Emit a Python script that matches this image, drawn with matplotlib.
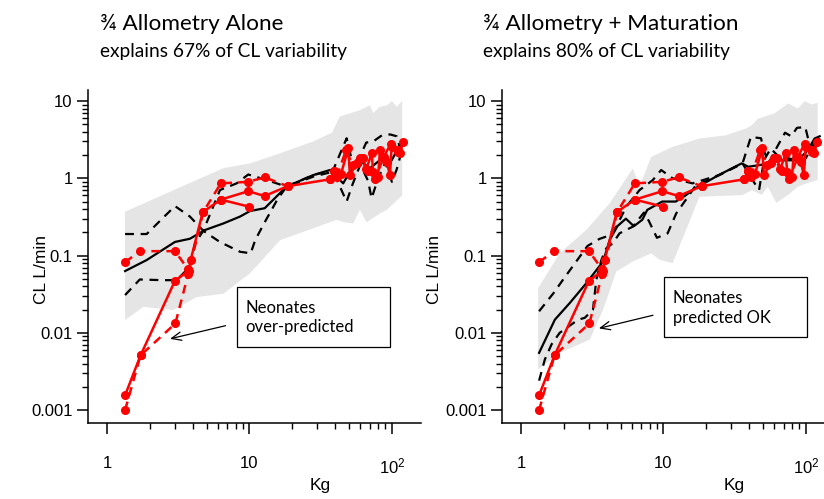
import matplotlib
matplotlib.use("Agg")
import matplotlib.pyplot as plt
from matplotlib.ticker import FixedLocator, NullFormatter
from matplotlib.patches import Rectangle

plt.rcParams['font.family'] = ['Liberation Sans', 'DejaVu Sans']
plt.rcParams['mathtext.default'] = 'regular'

# observed clearance (same in both panels): body weight kg, CL L/min
obs_kg_1 = [1.34, 1.72, 3.0, 3.75, 3.87, 4.7, 6.3, 9.8, 12.8, 18.5, 36.7, 39.5]
obs_cl_1 = [0.00155, 0.0051, 0.047, 0.064, 0.088, 0.365, 0.53, 0.68, 0.59, 0.79, 0.97, 1.25]
obs_kg_2 = [1.34, 1.72, 3.02, 3.72, 4.75, 6.3, 9.8, 12.8, 18.5]
obs_cl_2 = [0.001, 0.0051, 0.0132, 0.058, 0.37, 0.86, 0.90, 1.03, 0.79]
obs_kg_3 = [1.34, 1.70, 3.0, 3.72]
obs_cl_3 = [0.082, 0.114, 0.114, 0.066]
obs_kg_4 = [6.3, 9.9]
obs_cl_4 = [0.53, 0.43]
obs_kg_5 = [36.7, 39.5, 44, 49.4, 50.7, 56.5, 62.9, 66, 72, 74, 80, 82.4, 86.9, 91.8, 96.8, 99.5, 110.7, 113.8, 120]
obs_cl_5 = [0.97, 1.25, 1.15, 2.44, 1.10, 1.56, 1.81, 1.3, 2.10, 1.2, 1.05, 2.32, 1.90, 1.64, 1.10, 2.56, 2.32, 2.10, 2.97]
obs_kg_6 = [41, 47.6, 53, 60, 68, 76, 88, 98, 111]
obs_cl_6 = [1.05, 2.31, 1.5, 1.81, 1.24, 0.98, 1.9, 2.82, 2.2]

# 3/4 allometry alone: prediction band, median and two dashed percentiles
left_up_x = [1.34, 1.80, 2.92, 4.26, 6.55, 10.1, 16.4, 28, 38, 43, 59.5, 70, 74, 82, 92, 100, 108, 118]
left_up_y = [0.37, 0.47, 0.70, 0.95, 1.35, 1.56, 2.1, 3.0, 3.9, 6.3, 7.6, 8.8, 7.0, 8.4, 8.8, 10.0, 8.4, 10.0]
left_lo_x = [1.34, 1.80, 2.92, 4.26, 6.55, 10.1, 16.4, 40.9, 46, 53.5, 59.6, 66.4, 82.4, 92, 118]
left_lo_y = [0.0146, 0.0217, 0.0197, 0.029, 0.032, 0.059, 0.158, 0.29, 0.27, 0.26, 0.39, 0.27, 0.35, 0.39, 0.6]
left_med_x = [1.34, 1.90, 3.0, 3.82, 4.87, 6.55, 8.6, 10.1, 12.8, 18.2, 28, 36.7, 45.5, 50.7, 61.3, 70.1, 82.4, 96.8, 114]
left_med_y = [0.063, 0.0875, 0.15, 0.165, 0.214, 0.26, 0.32, 0.377, 0.41, 0.78, 1.10, 1.28, 0.86, 1.22, 1.64, 1.35, 1.72, 1.56, 2.7]
left_a_x = [1.34, 1.90, 3.0, 3.82, 4.74, 6.2, 8.58, 10.2, 11, 12.8, 15.6, 18.2, 28, 38.7, 48.1, 53, 60, 68, 72, 80, 90, 100, 108, 115]
left_a_y = [0.19, 0.19, 0.437, 0.32, 0.209, 0.15, 0.112, 0.107, 0.16, 0.27, 0.52, 0.78, 1.05, 1.22, 0.50, 0.84, 1.5, 0.93, 0.55, 1.0, 1.6, 0.9, 1.3, 2.0]
left_b_x = [1.34, 1.70, 2.48, 3.08, 3.82, 4.15, 4.74, 6.21, 8.13, 9.81, 13.2, 18.2, 28, 38.7, 48.1, 52, 58, 66, 74, 85, 97, 108, 116]
left_b_y = [0.0308, 0.049, 0.048, 0.048, 0.0716, 0.144, 0.209, 0.705, 0.86, 1.12, 0.95, 0.78, 1.10, 1.28, 3.3, 1.8, 1.7, 2.9, 3.0, 3.6, 3.7, 3.5, 2.2]

# 3/4 allometry + maturation
right_up_x = [1.32, 1.87, 2.88, 4.19, 6.1, 6.8, 8.2, 11.6, 17.9, 27.4, 37.9, 41.6, 46, 60, 67, 75, 88, 98, 110, 121]
right_up_y = [0.0379, 0.107, 0.215, 0.474, 1.34, 0.776, 1.89, 2.55, 3.27, 3.6, 4.4, 4.85, 5.9, 6.9, 8.0, 9.3, 8.0, 10.0, 9.0, 9.5]
right_lo_x = [1.32, 1.87, 3.04, 3.77, 4.67, 6.1, 8.2, 9.4, 11.6, 17.9, 35.9, 41.6, 49, 54, 62, 75, 88, 103, 121]
right_lo_y = [0.00335, 0.0055, 0.00817, 0.0199, 0.0622, 0.0838, 0.107, 0.088, 0.0798, 0.577, 0.607, 0.7, 0.61, 0.78, 0.48, 0.61, 0.78, 0.87, 0.95]
right_med_x = [1.34, 1.73, 2.2, 2.88, 3.77, 4.2, 4.75, 5.45, 6.2, 7.1, 7.7, 9.8, 12.2, 13.9, 16.7, 24.4, 35.4, 39.4, 46.9, 55.6, 60.3, 67, 88, 103, 115, 125]
right_med_y = [0.0055, 0.0148, 0.0243, 0.044, 0.0838, 0.16, 0.24, 0.30, 0.24, 0.29, 0.39, 0.50, 0.50, 0.58, 0.74, 1.1, 1.56, 1.41, 1.48, 1.56, 1.9, 1.71, 1.71, 2.3, 3.27, 3.5]
right_a_x = [1.34, 1.70, 1.97, 2.93, 3.55, 4.1, 4.67, 5.48, 6.8, 8.42, 9.64, 11.6, 16.0, 24.6, 35.9, 41.1, 48.4, 50.5, 55, 62, 71.3, 79, 86.5, 99, 103, 112, 125]
right_a_y = [0.019, 0.033, 0.0485, 0.133, 0.164, 0.18, 0.237, 0.428, 0.705, 0.948, 1.28, 1.0, 0.86, 1.1, 1.56, 3.43, 3.3, 2.3, 1.6, 2.45, 3.89, 3.5, 4.5, 4.6, 3.4, 2.4, 3.3]
right_b_x = [1.34, 1.47, 1.64, 1.87, 2.52, 2.8, 3.2, 3.38, 3.67, 3.97, 4.42, 4.92, 6.1, 7.3, 7.9, 9.0, 10.7, 12.3, 15, 16.8, 24.6, 35.9, 42.2, 46.9, 50.8, 56.6, 64.7, 76, 84.7, 99.5, 111, 120]
right_b_y = [0.0024, 0.0045, 0.0071, 0.0100, 0.0148, 0.0156, 0.0199, 0.0485, 0.088, 0.124, 0.145, 0.194, 0.237, 0.36, 0.28, 0.17, 0.194, 0.352, 0.59, 0.8, 1.1, 1.56, 0.948, 0.705, 1.72, 2.43, 1.89, 1.81, 1.72, 1.81, 2.55, 3.43]

x_ticks = [1, 10, 100]
x_labels = ['1', '10', '$10^2$']
y_ticks = [0.001, 0.01, 0.1, 1, 10]
y_labels = ['0.001', '0.01', '0.1', '1', '10']

titles = ['\u00be Allometry Alone', '\u00be Allometry + Maturation']
subtitles = ['explains 67% of CL variability', 'explains 80% of CL variability']
notes = ['Neonates\nover-predicted', 'Neonates\npredicted OK']


def draw_panel(ax, up_x, up_y, lo_x, lo_y, med_x, med_y, a_x, a_y, b_x, b_y, ylab_x):
    ax.fill(up_x + lo_x[::-1], up_y + lo_y[::-1], color='#e5e5e5', lw=0, zorder=1)
    ax.plot(med_x, med_y, color='black', lw=1.6, zorder=2)
    for xs, ys in [(a_x, a_y), (b_x, b_y)]:
        ax.plot(xs, ys, color='black', lw=1.6, dashes=(4, 3), zorder=2)

    for xs, ys in [(obs_kg_1, obs_cl_1), (obs_kg_4, obs_cl_4), (obs_kg_5, obs_cl_5)]:
        ax.plot(xs, ys, color='red', lw=1.8, marker='o', ms=5.5, zorder=3)
    for xs, ys in [(obs_kg_2, obs_cl_2), (obs_kg_3, obs_cl_3), (obs_kg_6, obs_cl_6)]:
        ax.plot(xs, ys, color='red', lw=1.8, marker='o', ms=5.5, dashes=(3.5, 2.5), zorder=3)

    ax.set_xscale('log')
    ax.set_yscale('log')
    ax.set_xlim(0.736, 160)
    ax.set_ylim(0.00068, 13.9)
    ax.set_xticks(x_ticks, labels=x_labels)
    ax.set_yticks(y_ticks, labels=y_labels)
    ax.xaxis.set_minor_locator(FixedLocator([m * d for d in (1, 10) for m in range(2, 10)]))
    ax.yaxis.set_minor_locator(FixedLocator([m * d for d in (0.001, 0.01, 0.1, 1) for m in range(2, 10)]))
    ax.xaxis.set_minor_formatter(NullFormatter())
    ax.yaxis.set_minor_formatter(NullFormatter())
    ax.tick_params(axis='both', which='major', labelsize=12, width=1.1)
    ax.tick_params(axis='y', which='major', length=8, pad=3)
    ax.tick_params(axis='x', which='major', length=8, pad=16)
    ax.tick_params(axis='both', which='minor', length=4, width=1.0)
    for side in ['top', 'right']:
        ax.spines[side].set_visible(False)
    for side in ['left', 'bottom']:
        ax.spines[side].set_linewidth(1.1)
    ax.set_xlabel('Kg', fontsize=12.5)
    ax.xaxis.set_label_coords(0.696, -0.166)
    ax.set_ylabel('CL L/min', fontsize=12.5)
    ax.yaxis.set_label_coords(ylab_x, 0.46)


fig = plt.figure(figsize=(8.24, 4.99), dpi=100)
ax1 = fig.add_axes([88 / 824, 1 - 423 / 499, 333 / 824, 333 / 499])
ax2 = fig.add_axes([502 / 824, 1 - 423 / 499, 333 / 824, 333 / 499])

draw_panel(ax1, left_up_x, left_up_y, left_lo_x, left_lo_y, left_med_x, left_med_y,
           left_a_x, left_a_y, left_b_x, left_b_y, -0.118)
draw_panel(ax2, right_up_x, right_up_y, right_lo_x, right_lo_y, right_med_x, right_med_y,
           right_a_x, right_a_y, right_b_x, right_b_y, -0.18)

# headings
for x0, t, s in zip([100, 483], titles, subtitles):
    fig.text(x0 / 824, 1 - 24 / 499, t, fontsize=16.2, family='Lato', va='center')
    fig.text(x0 / 824, 1 - 51 / 499, s, fontsize=13.8, family='Lato', va='center')

# call-out boxes and arrows
boxes = [(236.7, 286.7, 153.3, 60.0), (664.0, 277.3, 142.7, 59.4)]
for (bx, by, bw, bh), note in zip(boxes, notes):
    fig.add_artist(Rectangle((bx / 824, 1 - (by + bh) / 499), bw / 824, bh / 499,
                             transform=fig.transFigure, facecolor='white',
                             edgecolor='black', lw=0.9, zorder=5))
    fig.text((bx + 9) / 824, 1 - (by + bh / 2 + 1) / 499, note, fontsize=12, family='Lato',
             va='center', linespacing=1.25, zorder=6)

ax1.annotate('', xy=(2.65, 0.0082), xytext=(7.1, 0.0126),
             arrowprops=dict(arrowstyle='->,head_length=0.7,head_width=0.3', lw=0.9, color='black'))
ax2.annotate('', xy=(3.37, 0.0112), xytext=(8.82, 0.0172),
             arrowprops=dict(arrowstyle='->,head_length=0.7,head_width=0.3', lw=0.9, color='black'))

fig.savefig('out.png', dpi=100)
